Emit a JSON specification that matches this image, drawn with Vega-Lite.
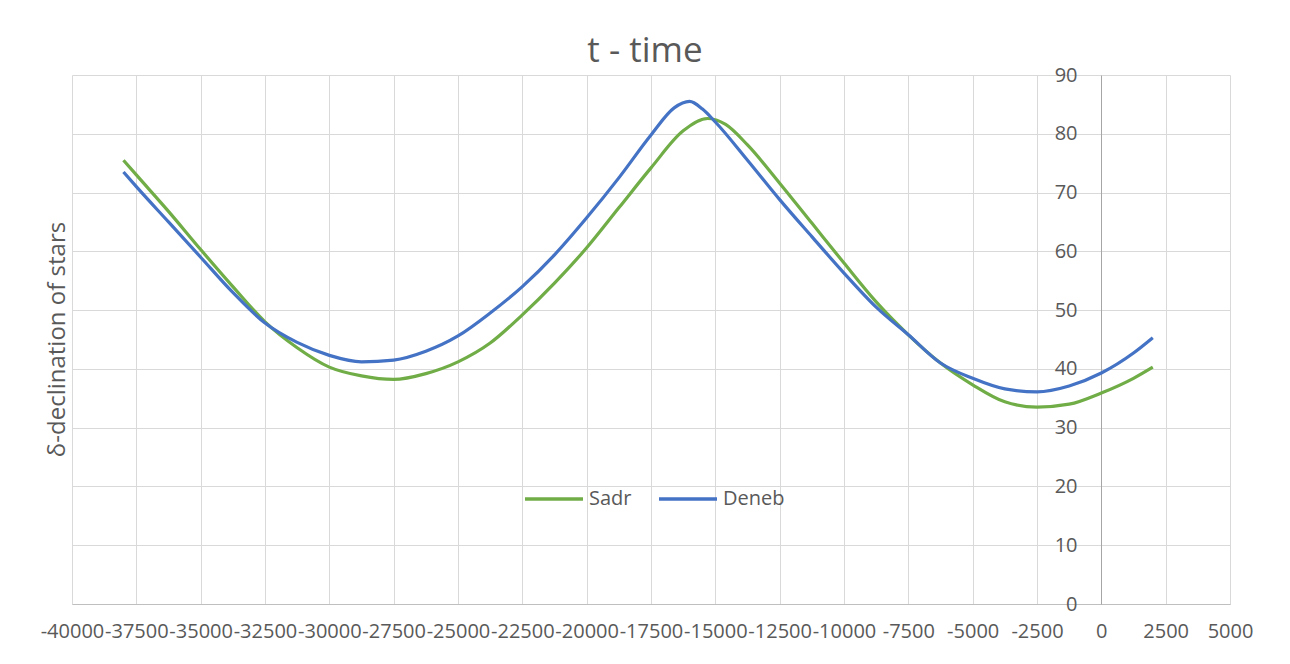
{
  "$schema": "https://vega.github.io/schema/vega-lite/v6.json",
  "width": 1158,
  "height": 529,
  "autosize": {"type": "none"},
  "padding": {"left": 72, "top": 75, "right": 60, "bottom": 60},
  "background": "white",
  "title": {
    "text": "t - time",
    "font": "Open Sans",
    "fontSize": 35,
    "fontWeight": "normal",
    "color": "#595959",
    "offset": -4,
    "dx": -6
  },
  "config": {
    "view": {"stroke": null},
    "font": "Open Sans"
  },
  "data": {
    "values": [
      {"t": -38000, "d": 75.5, "star": "Sadr"},
      {"t": -37500, "d": 73.0, "star": "Sadr"},
      {"t": -36250, "d": 66.8, "star": "Sadr"},
      {"t": -35000, "d": 60.3, "star": "Sadr"},
      {"t": -33750, "d": 54.0, "star": "Sadr"},
      {"t": -32500, "d": 48.0, "star": "Sadr"},
      {"t": -31250, "d": 43.6, "star": "Sadr"},
      {"t": -30000, "d": 40.3, "star": "Sadr"},
      {"t": -28750, "d": 38.8, "star": "Sadr"},
      {"t": -27500, "d": 38.2, "star": "Sadr"},
      {"t": -26250, "d": 39.2, "star": "Sadr"},
      {"t": -25000, "d": 41.2, "star": "Sadr"},
      {"t": -23750, "d": 44.4, "star": "Sadr"},
      {"t": -22500, "d": 49.2, "star": "Sadr"},
      {"t": -21250, "d": 54.6, "star": "Sadr"},
      {"t": -20000, "d": 60.6, "star": "Sadr"},
      {"t": -18750, "d": 67.4, "star": "Sadr"},
      {"t": -17500, "d": 74.2, "star": "Sadr"},
      {"t": -16250, "d": 80.5, "star": "Sadr"},
      {"t": -15300, "d": 82.6, "star": "Sadr"},
      {"t": -14600, "d": 81.6, "star": "Sadr"},
      {"t": -13750, "d": 78.1, "star": "Sadr"},
      {"t": -12500, "d": 71.6, "star": "Sadr"},
      {"t": -11250, "d": 64.8, "star": "Sadr"},
      {"t": -10000, "d": 58.0, "star": "Sadr"},
      {"t": -8750, "d": 51.4, "star": "Sadr"},
      {"t": -7500, "d": 45.8, "star": "Sadr"},
      {"t": -6250, "d": 41.0, "star": "Sadr"},
      {"t": -5000, "d": 37.3, "star": "Sadr"},
      {"t": -3750, "d": 34.4, "star": "Sadr"},
      {"t": -2500, "d": 33.5, "star": "Sadr"},
      {"t": -1250, "d": 34.0, "star": "Sadr"},
      {"t": 0, "d": 35.9, "star": "Sadr"},
      {"t": 1250, "d": 38.4, "star": "Sadr"},
      {"t": 2000, "d": 40.3, "star": "Sadr"},
      {"t": -38000, "d": 73.5, "star": "Deneb"},
      {"t": -37500, "d": 71.0, "star": "Deneb"},
      {"t": -36250, "d": 65.0, "star": "Deneb"},
      {"t": -35000, "d": 59.0, "star": "Deneb"},
      {"t": -33750, "d": 53.0, "star": "Deneb"},
      {"t": -32500, "d": 47.8, "star": "Deneb"},
      {"t": -31250, "d": 44.5, "star": "Deneb"},
      {"t": -30000, "d": 42.3, "star": "Deneb"},
      {"t": -28750, "d": 41.2, "star": "Deneb"},
      {"t": -27500, "d": 41.5, "star": "Deneb"},
      {"t": -26250, "d": 43.0, "star": "Deneb"},
      {"t": -25000, "d": 45.6, "star": "Deneb"},
      {"t": -23750, "d": 49.5, "star": "Deneb"},
      {"t": -22500, "d": 54.0, "star": "Deneb"},
      {"t": -21250, "d": 59.4, "star": "Deneb"},
      {"t": -20000, "d": 65.7, "star": "Deneb"},
      {"t": -18750, "d": 72.5, "star": "Deneb"},
      {"t": -17500, "d": 79.8, "star": "Deneb"},
      {"t": -16600, "d": 84.4, "star": "Deneb"},
      {"t": -16000, "d": 85.5, "star": "Deneb"},
      {"t": -15500, "d": 84.2, "star": "Deneb"},
      {"t": -15000, "d": 82.0, "star": "Deneb"},
      {"t": -13750, "d": 75.5, "star": "Deneb"},
      {"t": -12500, "d": 68.8, "star": "Deneb"},
      {"t": -11250, "d": 62.5, "star": "Deneb"},
      {"t": -10000, "d": 56.3, "star": "Deneb"},
      {"t": -8750, "d": 50.5, "star": "Deneb"},
      {"t": -7500, "d": 45.8, "star": "Deneb"},
      {"t": -6250, "d": 41.0, "star": "Deneb"},
      {"t": -5000, "d": 38.4, "star": "Deneb"},
      {"t": -3750, "d": 36.6, "star": "Deneb"},
      {"t": -2500, "d": 36.1, "star": "Deneb"},
      {"t": -1250, "d": 37.1, "star": "Deneb"},
      {"t": 0, "d": 39.3, "star": "Deneb"},
      {"t": 1250, "d": 42.7, "star": "Deneb"},
      {"t": 2000, "d": 45.3, "star": "Deneb"}
    ]
  },
  "mark": {"type": "line", "interpolate": "monotone", "strokeWidth": 3.2},
  "encoding": {
    "x": {
      "field": "t",
      "type": "quantitative",
      "scale": {"domain": [-40000, 5000], "nice": false, "zero": false},
      "axis": {
        "title": null,
        "values": [-40000, -37500, -35000, -32500, -30000, -27500, -25000, -22500, -20000, -17500, -15000, -12500, -10000, -7500, -5000, -2500, 0, 2500, 5000],
        "labelExpr": "'' + datum.value",
        "labelFont": "Open Sans",
        "labelFontSize": 20,
        "labelColor": "#595959",
        "labelOverlap": false,
        "labelBound": false,
        "labelFlush": false,
        "labelPadding": 17,
        "ticks": false,
        "domainColor": "#BFBFBF",
        "domainWidth": 1,
        "grid": true,
        "gridColor": "#D9D9D9",
        "gridWidth": 1
      }
    },
    "y": {
      "field": "d",
      "type": "quantitative",
      "scale": {"domain": [0, 90], "nice": false},
      "axis": {
        "title": "δ-declination of stars",
        "titleFont": "Open Sans",
        "titleFontSize": 24,
        "titleFontWeight": "normal",
        "titleColor": "#595959",
        "titleX": -1044,
        "titleY": 264,
        "titleAlign": "center",
        "titleBaseline": "middle",
        "titleAngle": -90,
        "offset": -1029,
        "values": [0, 10, 20, 30, 40, 50, 60, 70, 80, 90],
        "labelFont": "Open Sans",
        "labelFontSize": 20,
        "labelColor": "#595959",
        "labelPadding": 24,
        "labelOverlap": false,
        "labelBound": false,
        "labelFlush": false,
        "ticks": false,
        "domainColor": "#A6A6A6",
        "domainWidth": 1,
        "grid": true,
        "gridColor": "#D9D9D9",
        "gridWidth": 1
      }
    },
    "color": {
      "field": "star",
      "type": "nominal",
      "scale": {"domain": ["Sadr", "Deneb"], "range": ["#70AD47", "#4472C4"]},
      "legend": {
        "title": null,
        "orient": "none",
        "direction": "horizontal",
        "legendX": 451,
        "legendY": 393,
        "symbolType": "stroke",
        "symbolSize": 3364,
        "symbolStrokeWidth": 3.5,
        "labelFont": "Open Sans",
        "labelFontSize": 20,
        "labelColor": "#595959",
        "labelOffset": 4,
        "columnPadding": 20,
        "padding": 0
      }
    }
  }
}
